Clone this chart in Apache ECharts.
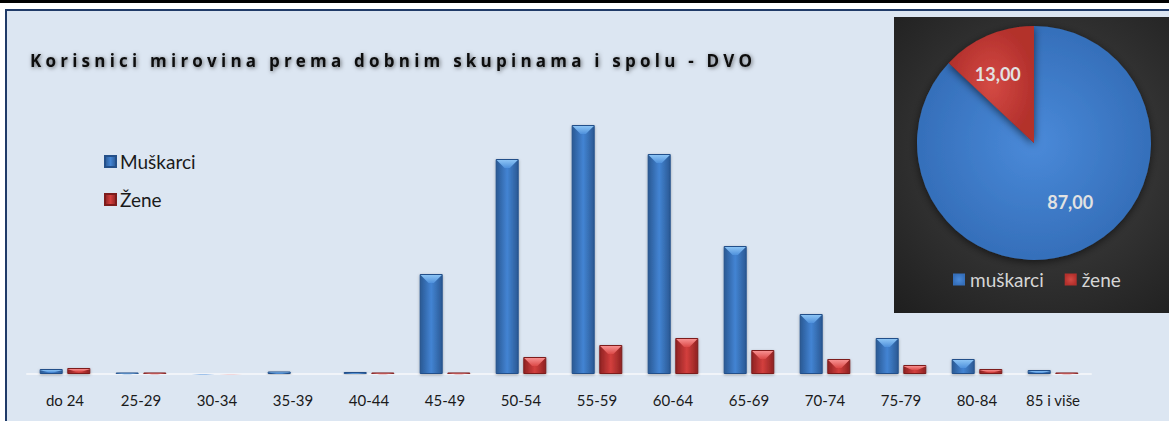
<!DOCTYPE html>
<html>
<head>
<meta charset="utf-8">
<script src="https://cdn.jsdelivr.net/npm/echarts@6/dist/echarts.min.js"></script>
<style>
  html, body { margin: 0; padding: 0; background: #fff; }
  #main { width: 1169px; height: 421px; }
</style>
</head>
<body>
<div id="main"></div>
<script>
const titleText = 'Korisnici mirovina prema dobnim skupinama i spolu - DVO'
const ageGroups = ['do 24', '25-29', '30-34', '35-39', '40-44', '45-49', '50-54', '55-59', '60-64', '65-69', '70-74', '75-79', '80-84', '85 i više']
const men = [50, 15, 10, 25, 20, 1000, 2150, 2490, 2200, 1280, 600, 360, 150, 40]
const women = [60, 15, 5, 0, 15, 15, 170, 290, 360, 240, 150, 90, 50, 15]
const pieNames = ['muškarci', 'žene']
const pieValues = [87, 13]

const pieCenter = [1034, 143]
const pieRadius = 117
const barW = 23
const titleWidth = 722

// gradients for the 3d look
const blueBar = new echarts.graphic.LinearGradient(0, 0, 1, 0, [
    { offset: 0, color: '#2a5994' },
    { offset: 0.5, color: '#4384d3' },
    { offset: 1, color: '#2a5994' }
])
const redBar = new echarts.graphic.LinearGradient(0, 0, 1, 0, [
    { offset: 0, color: '#8f2222' },
    { offset: 0.5, color: '#d33f3d' },
    { offset: 1, color: '#8f2222' }
])
const blueTop = new echarts.graphic.LinearGradient(0, 0, 0, 1, [
    { offset: 0, color: '#8cc4f5' },
    { offset: 1, color: '#4f91dc' }
])
const redTop = new echarts.graphic.LinearGradient(0, 0, 0, 1, [
    { offset: 0, color: '#f79090' },
    { offset: 1, color: '#dc4a48' }
])

function bevel(values) {
    return values.map(v => v >= 100 ? { value: v } : { value: v, symbolSize: [barW, '45%'] })
}

// label spot for a slice: mid angle, nudged a little like excel does
function pieLabelPos(i) {
    const total = pieValues.reduce((a, b) => a + b, 0)
    let acc = 0
    for (let k = 0; k < i; k++) acc += pieValues[k]
    acc += pieValues[i] / 2
    const ang = (acc / total * 360 - 6) * Math.PI / 180
    const d = pieRadius * 0.63
    return [pieCenter[0] + d * Math.sin(ang), pieCenter[1] - d * Math.cos(ang) - 5]
}

const chart = echarts.init(document.getElementById('main'), null, { renderer: 'svg' })

const option = {
    backgroundColor: '#ffffff',
    animation: false,
    graphic: [
        { type: 'rect', z: 0, shape: { x: 0, y: 0, width: 1169, height: 3 }, style: { fill: '#000' } },
        {
            type: 'rect', z: 0,
            shape: { x: 6, y: 10, width: 1250, height: 500 },
            style: { fill: '#dce6f2', stroke: '#1f3a68', lineWidth: 2 }
        },
        {
            type: 'rect', z: 1,
            shape: { x: 894, y: 17, width: 300, height: 296 },
            style: {
                fill: new echarts.graphic.RadialGradient(0.5, 0.45, 0.75, [
                    { offset: 0, color: '#474747' },
                    { offset: 1, color: '#1e1e1e' }
                ])
            }
        }
    ],
    title: {
        text: titleText,
        left: 30,
        top: 52,
        padding: 0,
        textStyle: {
            fontFamily: 'Open Sans',
            fontSize: 17,
            fontWeight: 'bold',
            color: '#111',
            textShadowColor: 'rgba(0,0,0,0.55)',
            textShadowBlur: 4,
            textShadowOffsetX: 1,
            textShadowOffsetY: 1
        }
    },
    legend: [
        {
            data: ['Muškarci', 'Žene'],
            orient: 'vertical',
            left: 104,
            top: 152,
            padding: 0,
            itemWidth: 11,
            itemHeight: 11,
            itemGap: 19,
            icon: 'rect',
            textStyle: { fontFamily: 'Lato', fontSize: 19, color: '#1a1a1a', padding: [0, 0, 0, -1] }
        },
        {
            data: pieNames,
            orient: 'horizontal',
            left: 953,
            top: 270,
            padding: 0,
            itemWidth: 12,
            itemHeight: 12,
            itemGap: 21,
            icon: 'rect',
            textStyle: { fontFamily: 'Lato', fontSize: 19, color: '#d6d6d6' }
        }
    ],
    grid: { left: 27, right: 78, top: 74, bottom: 47 },
    xAxis: {
        type: 'category',
        data: ageGroups,
        axisTick: { show: false },
        axisLine: { lineStyle: { color: '#f1f4f9', width: 2 } },
        axisLabel: { interval: 0, margin: 18, fontFamily: 'Lato', fontSize: 15, color: '#1a1a1a' }
    },
    yAxis: { type: 'value', show: false, min: 0, max: 3000, splitLine: { show: false } },
    series: [
        {
            name: 'Muškarci',
            type: 'bar',
            barWidth: barW,
            barGap: '20%',
            data: men,
            itemStyle: {
                color: blueBar,
                borderColor: '#24508a',
                borderWidth: 1,
                shadowColor: 'rgba(0,0,0,0.3)',
                shadowBlur: 3,
                shadowOffsetY: 1
            }
        },
        {
            name: 'Žene',
            type: 'bar',
            barWidth: barW,
            barGap: '20%',
            data: women,
            itemStyle: {
                color: redBar,
                borderColor: '#7d1c1c',
                borderWidth: 1,
                shadowColor: 'rgba(0,0,0,0.3)',
                shadowBlur: 3,
                shadowOffsetY: 1
            }
        },
        {
            name: 'Muškarci-top',
            type: 'pictorialBar',
            barWidth: barW,
            barGap: '20%',
            symbol: 'path://M0,0 L24,0 L15,8 L9,8 Z',
            symbolSize: [barW - 2, 8],
            symbolPosition: 'end',
            symbolOffset: [0, 1],
            silent: true,
            z: 3,
            itemStyle: { color: blueTop },
            data: bevel(men)
        },
        {
            name: 'Žene-top',
            type: 'pictorialBar',
            barWidth: barW,
            barGap: '20%',
            symbol: 'path://M0,0 L24,0 L15,8 L9,8 Z',
            symbolSize: [barW - 2, 8],
            symbolPosition: 'end',
            symbolOffset: [0, 1],
            silent: true,
            z: 3,
            itemStyle: { color: redTop },
            data: bevel(women)
        },
        {
            name: 'spol',
            type: 'pie',
            center: pieCenter,
            radius: pieRadius,
            startAngle: 90,
            clockwise: true,
            z: 4,
            data: pieNames.map((n, i) => ({
                name: n,
                value: pieValues[i],
                itemStyle: {
                    color: new echarts.graphic.RadialGradient(0.5, 0.5, 0.5, i === 0 ? [
                        { offset: 0, color: '#4a8ad9' },
                        { offset: 1, color: '#356fba' }
                    ] : [
                        { offset: 0, color: '#d44a44' },
                        { offset: 1, color: '#b3302c' }
                    ])
                }
            })),
            itemStyle: { shadowColor: 'rgba(0,0,0,0.6)', shadowBlur: 8, shadowOffsetY: 2 },
            label: {
                show: true,
                position: 'inside',
                formatter: p => p.value.toFixed(2).replace('.', ','),
                fontFamily: 'Lato',
                fontWeight: 'bold',
                fontSize: 18,
                color: '#e2e2e2'
            },
            labelLine: { show: false },
            labelLayout: function (p) {
                const pos = pieLabelPos(p.dataIndex)
                return { x: pos[0], y: pos[1], align: 'center', verticalAlign: 'middle' }
            }
        }
    ]
}

chart.setOption(option)

// spread out the title letters so it spans the same width as the original
function spaceTitle() {
    document.querySelectorAll('#main text').forEach(t => {
        if (t.textContent === titleText && !t.getAttribute('letter-spacing')) {
            const w = t.getComputedTextLength()
            const s = Math.max(0, (titleWidth - w) / (titleText.length - 1))
            t.setAttribute('letter-spacing', s.toFixed(2))
        }
    })
}
spaceTitle()
chart.on('finished', spaceTitle)
</script>
</body>
</html>
